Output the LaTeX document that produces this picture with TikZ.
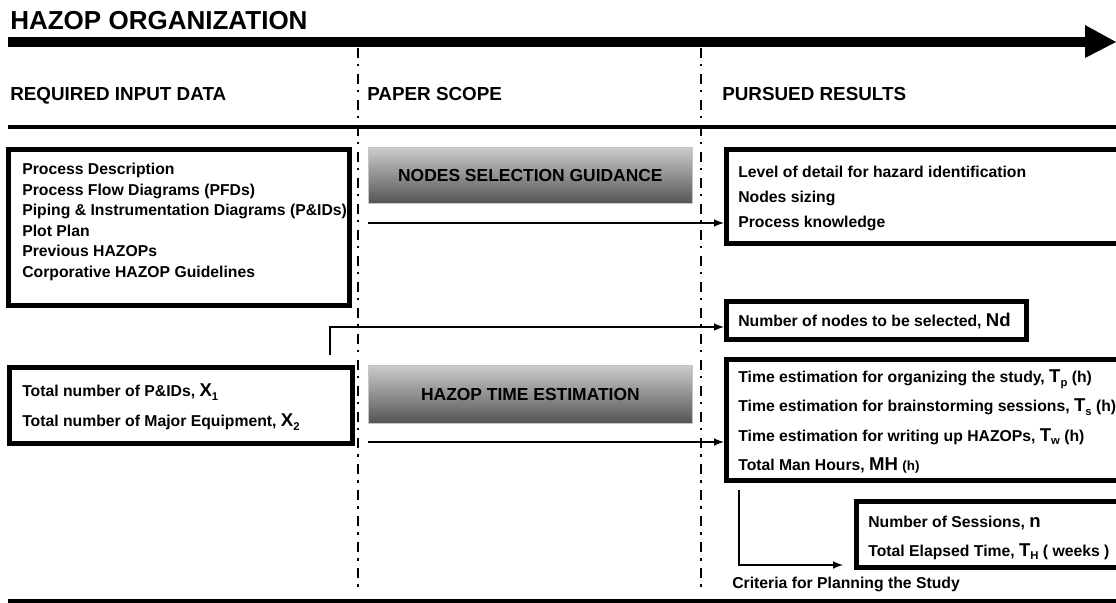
\documentclass[tikz,border=0pt]{standalone}
\usepackage{fontspec}
\setmainfont{Liberation Sans}
\usetikzlibrary{arrows}

\definecolor{shadelight}{gray}{0.80}
\definecolor{shadedark}{gray}{0.33}

% larger variable letters with small bold indices
\newcommand{\bigsym}[1]{{\fontsize{13.2}{14}\selectfont #1}}
\newcommand{\symsub}[2]{\bigsym{#1}\raisebox{-0.45ex}{\fontsize{8}{8}\selectfont #2}}

\tikzset{
  itembox/.style={draw, line width=3.4pt, rectangle, anchor=north west, inner sep=0pt},
  itemlines/.style={anchor=north west, inner sep=0pt, align=left, font=\bfseries\fontsize{11.2}{#1}\selectfont},
  itemlines/.default={14.6pt},
  scopebox/.style={rectangle, anchor=north west, draw=gray!45, line width=0.5pt, top color=shadelight, bottom color=shadedark, font=\bfseries\fontsize{12.4}{14}\selectfont},
  header/.style={anchor=base west, inner sep=0pt, font=\bfseries\fontsize{13.4}{16}\selectfont},
  oneline/.style={anchor=base west, inner sep=0pt, font=\bfseries\fontsize{11.2}{14}\selectfont},
  divider/.style={line width=1.7pt, dash pattern=on 7.1pt off 4.3pt on 1.6pt off 5.5pt},
  flow/.style={line width=1.4pt, -latex},
}

\begin{document}
\begin{tikzpicture}[x=0.025cm, y=-0.025cm]
  \useasboundingbox (0,0) rectangle (1116,603);
  \clip (0,0) rectangle (1116,603);

  % title and time arrow
  \node[anchor=base west, inner sep=0pt, font=\bfseries\fontsize{18.5}{20}\selectfont] (title) at (10,30) {HAZOP ORGANIZATION};
  \draw[line width=7pt] (8,42) -- (1086,42);
  \fill (1085,25) -- (1116,42) -- (1085,58) -- cycle;

  % column headers
  \node[header] (hinput) at (10,101) {REQUIRED INPUT DATA};
  \node[header] (hscope) at (367,101) {PAPER SCOPE};
  \node[header] (hresult) at (722,101) {PURSUED RESULTS};
  \draw[line width=3.5pt] (8,127) -- (1116,127);
  \draw[line width=3pt] (8,601) -- (1116,601);
  \draw[divider] (358,48) -- (358,594);
  \draw[divider] (701,48) -- (701,594);

  % input data
  \node[itembox, minimum width=8.525cm, minimum height=3.9cm] (inputs) at (6,147) {};
  \node[itemlines] (inputlist) at (22,163) {Process Description\\
    Process Flow Diagrams (PFDs)\\
    Piping \& Instrumentation Diagrams (P\&IDs)\\
    Plot Plan\\
    Previous HAZOPs\\
    Corporative HAZOP Guidelines};
  \node[itembox, minimum width=8.575cm, minimum height=1.9cm] (counts) at (7,365) {};
  \node[itemlines=21.3pt] (countlist) at (22,383.5) {Total number of P\&IDs, \symsub{X}{1}\\
    Total number of Major Equipment, \symsub{X}{2}};

  % paper scope
  \node[scopebox, minimum width=8.1cm, minimum height=1.4cm] (select) at (368,147) {NODES SELECTION GUIDANCE};
  \node[scopebox, minimum width=8.1cm, minimum height=1.45cm] (estim) at (368,365) {HAZOP TIME ESTIMATION};

  % results
  \node[itembox, minimum width=10.15cm, minimum height=2.35cm] (detail) at (724,147) {};
  \node[itemlines=17.8pt] (detaillist) at (738,166) {Level of detail for hazard identification\\
    Nodes sizing\\
    Process knowledge};
  \node[itembox, minimum width=7.5cm, minimum height=0.95cm] (nodes) at (724,299) {};
  \node[oneline] (nodestext) at (738,326) {Number of nodes to be selected, \bigsym{Nd}};
  \node[itembox, minimum width=10.15cm, minimum height=3.025cm] (times) at (724,357) {};
  \node[itemlines=20.8pt] (timelist) at (738,369.5) {Time estimation for organizing the study, \symsub{T}{p} (h)\\
    Time estimation for brainstorming sessions, \symsub{T}{s} (h)\\
    Time estimation for writing up HAZOPs, \symsub{T}{w} (h)\\
    Total Man Hours, \bigsym{MH} {\fontsize{9.5}{10}\selectfont (h)}};
  \node[itembox, minimum width=6.9cm, minimum height=1.65cm] (plan) at (854,499) {};
  \node[itemlines=20.6pt] (planlist) at (868,515.5) {Number of Sessions, \bigsym{n}\\
    Total Elapsed Time, \symsub{T}{H} ( weeks )};
  \node[oneline] (criteria) at (732,588) {Criteria for Planning the Study};

  % connectors
  \coordinate (rise) at (330,355);
  \coordinate (drop) at (739,490);
  \coordinate (planin) at (843,565);
  \draw[flow] (select.west |- 0,223) -- (detail.west |- 0,223);
  \draw[flow] (rise) |- (nodes.west |- 0,327);
  \draw[flow] (estim.west |- 0,442) -- (times.west |- 0,442);
  \draw[flow] (drop) |- (planin);
\end{tikzpicture}
\end{document}
